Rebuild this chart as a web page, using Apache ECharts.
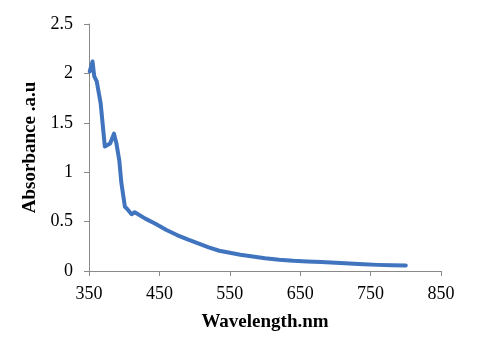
<!DOCTYPE html>
<html>
<head>
<meta charset="utf-8">
<script src="https://cdn.jsdelivr.net/npm/echarts@6/dist/echarts.min.js"></script>
<style>
  html, body { margin: 0; padding: 0; background: #fff; }
  #chart { width: 480px; height: 346px; }
</style>
</head>
<body>
<div id="chart"></div>
<script>
// 波長 (nm) 與吸光度
const wavelength = [351, 355, 357.5, 361, 366.5, 372.5, 380, 385.5, 389, 393, 396, 401, 404, 410.5, 415,
  430, 445, 460, 475, 490, 505, 520, 535, 550, 565, 580, 600, 620, 640, 660, 680, 700, 720, 740, 760, 780, 800];
const absorbance = [2.02, 2.12, 1.97, 1.92, 1.70, 1.26, 1.29, 1.39, 1.29, 1.12, 0.89, 0.65, 0.63, 0.575, 0.594,
  0.53, 0.475, 0.415, 0.364, 0.32, 0.28, 0.24, 0.205, 0.185, 0.165, 0.15, 0.13, 0.115, 0.104, 0.097, 0.09, 0.083, 0.076, 0.068, 0.062, 0.058, 0.056];
const xTicks = [350, 450, 550, 650, 750, 850];
const yTicks = [0, 0.5, 1, 1.5, 2, 2.5];

const chart = echarts.init(document.getElementById('chart'));

const font = '"Liberation Serif", "Times New Roman", serif';
const axisColor = '#898989';

const option = {
  animation: false,
  grid: { left: 89, right: 39, top: 24, bottom: 75 },
  xAxis: {
    type: 'value',
    min: xTicks[0],
    max: xTicks[xTicks.length - 1],
    interval: 100,
    name: 'Wavelength.nm',
    nameLocation: 'middle',
    nameGap: 42,
    nameTextStyle: { fontFamily: font, fontSize: 19, fontWeight: 'bold', color: '#000' },
    axisLine: { lineStyle: { color: axisColor, width: 1 } },
    axisTick: { length: 5, lineStyle: { color: axisColor } },
    axisLabel: { fontFamily: font, fontSize: 18, color: '#000', margin: 14 },
    splitLine: { show: false }
  },
  yAxis: {
    type: 'value',
    min: yTicks[0],
    max: yTicks[yTicks.length - 1],
    interval: 0.5,
    name: 'Absorbance .a.u',
    nameLocation: 'middle',
    nameGap: 47,
    nameTextStyle: { fontFamily: font, fontSize: 19, fontWeight: 'bold', color: '#000' },
    axisLine: { show: true, lineStyle: { color: axisColor, width: 1 } },
    axisTick: { show: true, length: 5, lineStyle: { color: axisColor } },
    axisLabel: { fontFamily: font, fontSize: 18, color: '#000', margin: 16 },
    splitLine: { show: false }
  },
  series: [
    {
      type: 'line',
      data: wavelength.map((w, i) => [w, absorbance[i]]),
      showSymbol: false,
      lineStyle: { color: '#4174BE', width: 4, join: 'round', cap: 'round' }
    }
  ]
};

chart.setOption(option);
</script>
</body>
</html>
